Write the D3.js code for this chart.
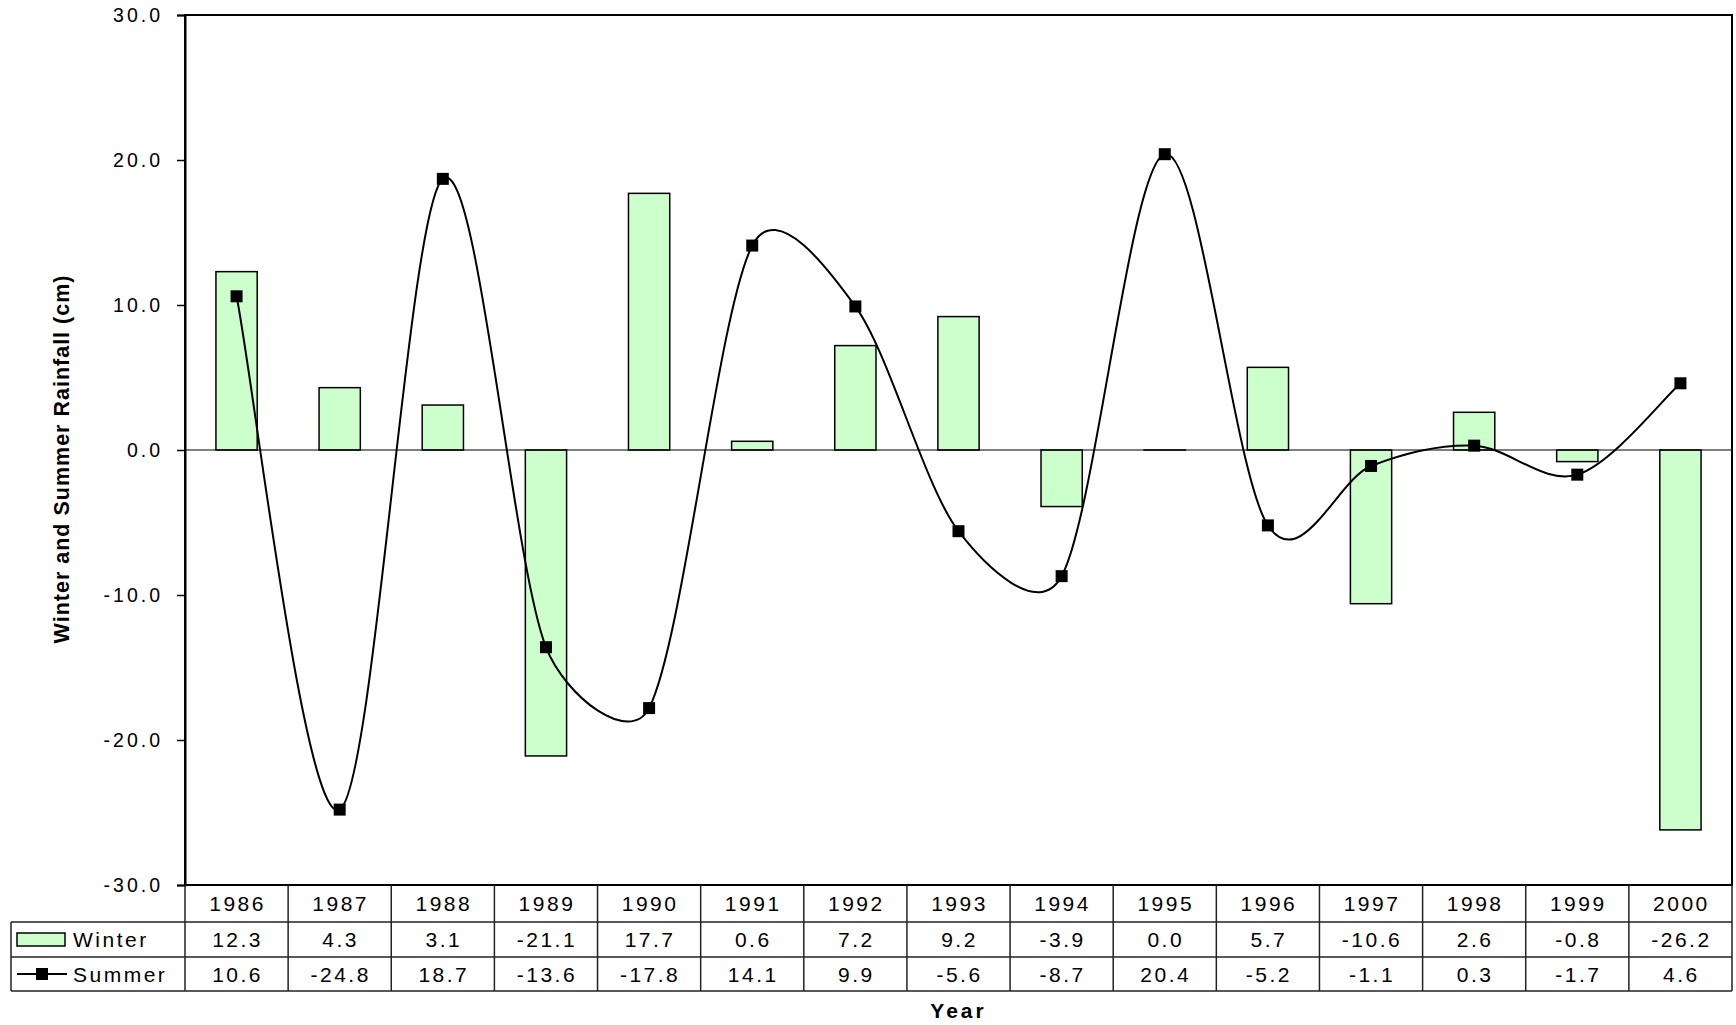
<!DOCTYPE html>
<html>
<head>
<meta charset="utf-8">
<script src="https://cdn.jsdelivr.net/npm/d3@7"></script>
<style>
  html, body { margin: 0; padding: 0; background: #fff; }
  svg { display: block; font-family: "Liberation Sans", Arial, sans-serif; }
</style>
</head>
<body>
<svg id="chart" width="1736" height="1025"></svg>
<script>
// Seasonal rainfall anomalies, 1986–2000 (cm)
const years = ["1986","1987","1988","1989","1990","1991","1992","1993","1994","1995","1996","1997","1998","1999","2000"];
const winter = [12.3, 4.3, 3.1, -21.1, 17.7, 0.6, 7.2, 9.2, -3.9, 0.0, 5.7, -10.6, 2.6, -0.8, -26.2];
const summer = [10.6, -24.8, 18.7, -13.6, -17.8, 14.1, 9.9, -5.6, -8.7, 20.4, -5.2, -1.1, 0.3, -1.7, 4.6];
const yTicks = [-30, -20, -10, 0, 10, 20, 30];

const fmt1 = v => v.toFixed(1);

const svg = d3.select("#chart");
const plot = { left: 185, right: 1732, top: 15, bottom: 885 };
const tableRows = { yearBottom: 922, winterBottom: 957, summerBottom: 991 };
const legendLeft = 11;

const x = d3.scaleBand().domain(years).range([plot.left, plot.right]).paddingInner(0).paddingOuter(0);
const y = d3.scaleLinear().domain([-30, 30]).range([plot.bottom, plot.top]);
const barW = x.bandwidth() / 2.5;
const cx = d => x(d) + x.bandwidth() / 2;

// Winter bars
svg.append("g").selectAll("rect").data(years).join("rect")
  .attr("x", (d) => cx(d) - barW / 2)
  .attr("y", (d, i) => y(Math.max(0, winter[i])))
  .attr("width", barW)
  .attr("height", (d, i) => Math.max(Math.abs(y(winter[i]) - y(0)), 0.01))
  .attr("fill", "#ccffcc")
  .attr("stroke", "#000")
  .attr("stroke-width", 1.5);

// Zero line
svg.append("line")
  .attr("x1", plot.left).attr("x2", plot.right)
  .attr("y1", y(0)).attr("y2", y(0))
  .attr("stroke", "#000").attr("stroke-width", 1.2);

// Summer smoothed line: Bezier arms of 1/6 the neighbour chord,
// shortened when both arms together grow long relative to the segment.
const ARM_LIMIT = 0.8;
function smoothPath(pts) {
  const p = d3.path();
  p.moveTo(pts[0][0], pts[0][1]);
  const n = pts.length;
  for (let i = 0; i < n - 1; i++) {
    const p0 = pts[Math.max(i - 1, 0)], p1 = pts[i], p2 = pts[i + 1], p3 = pts[Math.min(i + 2, n - 1)];
    let a = [(p2[0] - p0[0]) / 6, (p2[1] - p0[1]) / 6];
    let b = [(p3[0] - p1[0]) / 6, (p3[1] - p1[1]) / 6];
    const la = Math.hypot(a[0], a[1]), lb = Math.hypot(b[0], b[1]);
    const chord = Math.hypot(p2[0] - p1[0], p2[1] - p1[1]);
    if (la + lb > ARM_LIMIT * chord) {
      const k = ARM_LIMIT * chord / (la + lb);
      a = [a[0] * k, a[1] * k];
      b = [b[0] * k, b[1] * k];
    }
    p.bezierCurveTo(p1[0] + a[0], p1[1] + a[1], p2[0] - b[0], p2[1] - b[1], p2[0], p2[1]);
  }
  return p.toString();
}
const summerPts = summer.map((v, i) => [cx(years[i]), y(v)]);
svg.append("path")
  .attr("d", smoothPath(summerPts))
  .attr("fill", "none")
  .attr("stroke", "#000")
  .attr("stroke-width", 2);

const mk = 12;
svg.append("g").selectAll("rect").data(summer).join("rect")
  .attr("x", (d, i) => cx(years[i]) - mk / 2)
  .attr("y", d => y(d) - mk / 2)
  .attr("width", mk).attr("height", mk)
  .attr("fill", "#000");

// Plot frame
svg.append("rect")
  .attr("x", plot.left).attr("y", plot.top)
  .attr("width", plot.right - plot.left).attr("height", plot.bottom - plot.top)
  .attr("fill", "none").attr("stroke", "#000").attr("stroke-width", 2);

// Y axis
const yAxis = d3.axisLeft(y).tickValues(yTicks).tickFormat(fmt1).tickSize(8).tickPadding(14);
const ga = svg.append("g").attr("transform", `translate(${plot.left},0)`).call(yAxis);
ga.select(".domain").attr("stroke", "#000").attr("stroke-width", 2);
ga.selectAll(".tick line").attr("stroke", "#000").attr("stroke-width", 1.5);
ga.selectAll(".tick text")
  .attr("font-size", 19.5)
  .attr("letter-spacing", "3px")
  .attr("fill", "#000")
  .attr("font-family", "'Liberation Sans', Arial, sans-serif");

// Y axis title
svg.append("text")
  .attr("transform", `translate(69,459) rotate(-90)`)
  .attr("text-anchor", "middle")
  .attr("font-size", 21.5)
  .attr("font-weight", "bold")
  .attr("letter-spacing", "1px")
  .text("Winter and Summer Rainfall (cm)");

// Data table
const grid = svg.append("g").attr("stroke", "#222").attr("stroke-width", 1.5);
grid.append("line").attr("x1", legendLeft).attr("x2", plot.right).attr("y1", tableRows.yearBottom).attr("y2", tableRows.yearBottom);
grid.append("line").attr("x1", legendLeft).attr("x2", plot.right).attr("y1", tableRows.winterBottom).attr("y2", tableRows.winterBottom);
grid.append("line").attr("x1", legendLeft).attr("x2", plot.right).attr("y1", tableRows.summerBottom).attr("y2", tableRows.summerBottom);
const bounds = years.map(d => x(d)).concat([plot.right]);
grid.selectAll("line.v").data(bounds).join("line").attr("class", "v")
  .attr("x1", d => d).attr("x2", d => d)
  .attr("y1", plot.bottom).attr("y2", tableRows.summerBottom);
grid.append("line").attr("x1", legendLeft).attr("x2", legendLeft)
  .attr("y1", tableRows.yearBottom).attr("y2", tableRows.summerBottom);

const cellText = (vals, yMid, fmt) => svg.append("g").selectAll("text").data(vals).join("text")
  .attr("x", (d, i) => cx(years[i]) + 1)
  .attr("y", yMid)
  .attr("dy", "0.36em")
  .attr("text-anchor", "middle")
  .attr("font-size", 21)
  .attr("letter-spacing", "2.5px")
  .text(fmt);

cellText(years, (plot.bottom + tableRows.yearBottom) / 2, d => d);
cellText(winter, (tableRows.yearBottom + tableRows.winterBottom) / 2, fmt1);
cellText(summer, (tableRows.winterBottom + tableRows.summerBottom) / 2, fmt1);

// Legend keys inside the table
const wMid = (tableRows.yearBottom + tableRows.winterBottom) / 2;
const sMid = (tableRows.winterBottom + tableRows.summerBottom) / 2;
svg.append("rect").attr("x", 17).attr("y", wMid - 6.5).attr("width", 48).attr("height", 13)
  .attr("fill", "#ccffcc").attr("stroke", "#000").attr("stroke-width", 1.5);
svg.append("text").attr("x", 73).attr("y", wMid).attr("dy", "0.36em")
  .attr("font-size", 21).attr("letter-spacing", "2.5px").text("Winter");
svg.append("line").attr("x1", 17).attr("x2", 67).attr("y1", sMid).attr("y2", sMid)
  .attr("stroke", "#000").attr("stroke-width", 2);
svg.append("rect").attr("x", 36).attr("y", sMid - 6).attr("width", 12).attr("height", 12).attr("fill", "#000");
svg.append("text").attr("x", 73).attr("y", sMid).attr("dy", "0.36em")
  .attr("font-size", 21).attr("letter-spacing", "2.5px").text("Summer");

// X axis title
svg.append("text")
  .attr("x", (plot.left + plot.right) / 2)
  .attr("y", 1018)
  .attr("text-anchor", "middle")
  .attr("font-size", 21)
  .attr("font-weight", "bold")
  .attr("letter-spacing", "3px")
  .text("Year");
</script>
</body>
</html>
